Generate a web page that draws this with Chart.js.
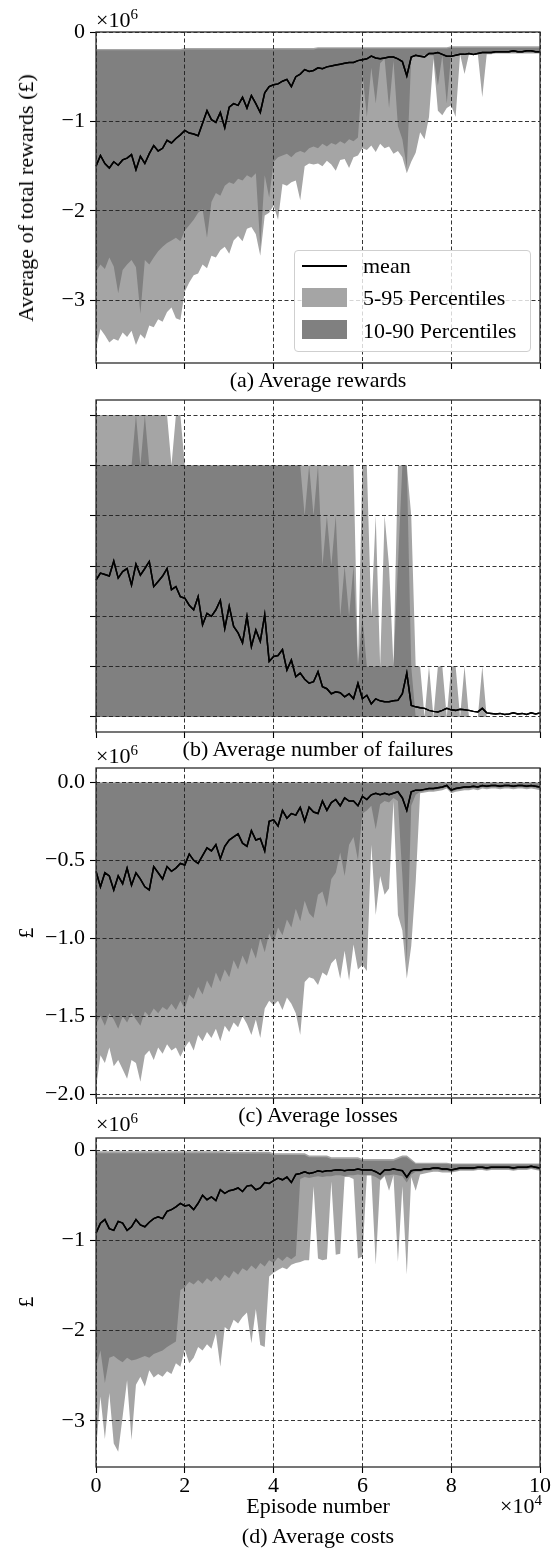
<!DOCTYPE html>
<html>
<head>
<meta charset="utf-8">
<script src="https://cdn.jsdelivr.net/npm/chart.js@4.4.1/dist/chart.umd.min.js"></script>
<style>
    body { margin: 0; width: 553px; height: 1554px; position: relative; overflow: hidden; background: #fff; }
    canvas { position: absolute; left: 0; }
    .t { position: absolute; font: 22px/22px 'Liberation Serif', serif; white-space: nowrap; color: #000; }
    .c { transform: translateX(-50%); }
    .rot { transform: translate(-50%, -50%) rotate(-90deg); }
    .sup { font-size: 15px; position: relative; top: -8px; }
    #legend {
        position: absolute; left: 294px; top: 250px; width: 237px; height: 102px; box-sizing: border-box;
        border: 1px solid #cfcfcf; border-radius: 4px; background: rgba(255, 255, 255, 0.8);
    }
    #legend .line { position: absolute; left: 7px; top: 14px; width: 45px; height: 1.6px; background: #000; }
    #legend .patch { position: absolute; left: 7px; width: 45px; height: 19px; }
</style>
</head>
<body>
<div id="charts"></div>

<div class="t" style="left:96px;top:8.6px">×10<span class="sup">6</span></div>
<div class="t rot" style="left:25.6px;top:198px">Average of total rewards (£)</div>
<div id="legend">
    <div class="line"></div>
    <div class="t" style="left:68px;top:3.6px">mean</div>
    <div class="patch" style="top:37px;background:#a5a5a5"></div>
    <div class="t" style="left:68px;top:36.3px">5-95 Percentiles</div>
    <div class="patch" style="top:69px;background:#808080"></div>
    <div class="t" style="left:68px;top:68.9px">10-90 Percentiles</div>
</div>
<div class="t c" style="left:318px;top:368.6px">(a) Average rewards</div>

<div class="t c" style="left:318px;top:737.6px">(b) Average number of failures</div>

<div class="t" style="left:96px;top:744.6px">×10<span class="sup">6</span></div>
<div class="t rot" style="left:25.6px;top:933px">£</div>
<div class="t c" style="left:318px;top:1104.3px">(c) Average losses</div>

<div class="t" style="left:96px;top:1113.3px">×10<span class="sup">6</span></div>
<div class="t rot" style="left:25.6px;top:1302px">£</div>
<div class="t c" style="left:318px;top:1494.6px">Episode number</div>
<div class="t" style="right:11px;top:1494.6px">×10<span class="sup">4</span></div>
<div class="t c" style="left:318px;top:1525px">(d) Average costs</div>

<script>
const LIGHT = '#a5a5a5'
const DARK = '#808080'

const episodes = Array.from({ length: 101 }, (_, i) => i * 1000)
const xTicks = [0, 20000, 40000, 60000, 80000, 100000]

// (a) average rewards, x1e6
const aTicks = [0, -1, -2, -3]
const aMean = [
    -1.50, -1.38, -1.47, -1.52, -1.45, -1.49, -1.43, -1.41, -1.37, -1.54,
    -1.39, -1.47, -1.36, -1.27, -1.33, -1.30, -1.21, -1.24, -1.19, -1.15,
    -1.10, -1.13, -1.14, -1.16, -1.02, -0.88, -0.98, -1.01, -0.90, -1.07,
    -0.84, -0.80, -0.82, -0.73, -0.85, -0.71, -0.80, -0.90, -0.68, -0.61,
    -0.59, -0.58, -0.55, -0.53, -0.61, -0.50, -0.47, -0.42, -0.44, -0.43,
    -0.40, -0.41, -0.39, -0.38, -0.37, -0.36, -0.35, -0.34, -0.34, -0.32,
    -0.31, -0.30, -0.27, -0.29, -0.30, -0.29, -0.28, -0.28, -0.30, -0.33,
    -0.49, -0.28, -0.26, -0.27, -0.28, -0.24, -0.24, -0.23, -0.25, -0.27,
    -0.27, -0.26, -0.25, -0.25, -0.24, -0.25, -0.24, -0.23, -0.23, -0.23,
    -0.22, -0.22, -0.22, -0.22, -0.21, -0.22, -0.22, -0.21, -0.21, -0.22, -0.22
]
const aP95 = [
    -0.19, -0.19, -0.19, -0.19, -0.19, -0.19, -0.19, -0.19, -0.19, -0.19,
    -0.19, -0.19, -0.19, -0.19, -0.19, -0.19, -0.19, -0.19, -0.19, -0.19,
    -0.18, -0.18, -0.18, -0.18, -0.18, -0.18, -0.18, -0.18, -0.18, -0.18,
    -0.18, -0.18, -0.18, -0.18, -0.18, -0.18, -0.18, -0.18, -0.18, -0.18,
    -0.18, -0.18, -0.18, -0.18, -0.18, -0.18, -0.18, -0.18, -0.18, -0.18,
    -0.17, -0.17, -0.17, -0.17, -0.17, -0.17, -0.17, -0.17, -0.17, -0.17,
    -0.17, -0.17, -0.17, -0.17, -0.17, -0.17, -0.17, -0.17, -0.17, -0.17,
    -0.17, -0.17, -0.17, -0.17, -0.17, -0.17, -0.17, -0.17, -0.17, -0.17,
    -0.16, -0.16, -0.16, -0.16, -0.16, -0.16, -0.16, -0.16, -0.16, -0.16,
    -0.16, -0.16, -0.16, -0.16, -0.16, -0.16, -0.16, -0.16, -0.16, -0.16, -0.16
]
const aP90 = [
    -0.205, -0.205, -0.205, -0.205, -0.205, -0.205, -0.205, -0.205, -0.205, -0.205,
    -0.205, -0.205, -0.205, -0.205, -0.205, -0.205, -0.205, -0.205, -0.205, -0.205,
    -0.195, -0.195, -0.195, -0.195, -0.195, -0.195, -0.195, -0.195, -0.195, -0.195,
    -0.195, -0.195, -0.195, -0.195, -0.195, -0.195, -0.195, -0.195, -0.195, -0.195,
    -0.195, -0.195, -0.195, -0.195, -0.195, -0.195, -0.195, -0.195, -0.195, -0.195,
    -0.185, -0.185, -0.185, -0.185, -0.185, -0.185, -0.185, -0.185, -0.185, -0.185,
    -0.185, -0.185, -0.185, -0.185, -0.185, -0.185, -0.185, -0.185, -0.185, -0.185,
    -0.185, -0.185, -0.185, -0.185, -0.185, -0.185, -0.185, -0.185, -0.185, -0.185,
    -0.175, -0.175, -0.175, -0.175, -0.175, -0.175, -0.175, -0.175, -0.175, -0.175,
    -0.175, -0.175, -0.175, -0.175, -0.175, -0.175, -0.175, -0.175, -0.175, -0.175, -0.175
]
const aP10 = [
    -2.68, -2.60, -2.65, -2.52, -2.62, -2.92, -2.66, -2.60, -2.55, -2.63,
    -3.15, -2.55, -2.60, -2.52, -2.45, -2.40, -2.36, -2.33, -2.30, -2.34,
    -2.22, -2.16, -2.10, -2.02, -1.98, -2.30, -1.90, -1.80, -1.83, -1.72,
    -1.68, -1.70, -1.64, -1.66, -1.60, -1.63, -1.58, -2.40, -1.60, -1.85,
    -1.45, -1.40, -1.38, -1.36, -1.40, -1.35, -1.33, -1.35, -1.30, -1.28,
    -1.30, -1.25, -1.28, -1.24, -1.26, -1.22, -1.25, -1.20, -1.22, -1.18,
    -0.45, -0.95, -0.40, -0.80, -0.35, -0.30, -0.85, -0.32, -1.05, -1.20,
    -1.52, -0.28, -0.27, -0.27, -0.26, -0.26, -0.26, -0.60, -0.26, -0.80,
    -0.25, -0.25, -0.25, -0.25, -0.24, -0.24, -0.24, -0.24, -0.24, -0.24,
    -0.23, -0.23, -0.23, -0.23, -0.23, -0.23, -0.23, -0.23, -0.23, -0.23, -0.23
]
const aP5 = [
    -3.54, -3.32, -3.39, -3.47, -3.43, -3.45, -3.36, -3.41, -3.34, -3.50,
    -3.38, -3.43, -3.28, -3.30, -3.21, -3.24, -3.13, -3.08, -3.20, -3.22,
    -2.90, -2.80, -2.72, -2.70, -2.60, -2.64, -2.50, -2.52, -2.44, -2.40,
    -2.48, -2.33, -2.28, -2.34, -2.20, -2.18, -2.26, -2.50, -2.05, -2.02,
    -1.94, -2.10, -1.70, -1.72, -1.68, -1.66, -1.88, -1.50, -1.47, -1.48,
    -1.47, -1.50, -1.44, -1.48, -1.55, -1.43, -1.42, -1.52, -1.40, -1.38,
    -1.30, -1.32, -1.27, -1.34, -1.25, -1.30, -1.28, -1.36, -1.33, -1.40,
    -1.58, -1.45, -1.35, -1.12, -1.20, -0.95, -0.30, -0.88, -0.93, -0.85,
    -0.82, -0.95, -0.25, -0.47, -0.25, -0.25, -0.25, -0.73, -0.25, -0.25,
    -0.24, -0.24, -0.24, -0.24, -0.24, -0.24, -0.24, -0.24, -0.24, -0.24, -0.24
]

// (b) average number of failures
const bTicks = [0, 1, 2, 3, 4, 5, 6]
const bMean = [
    2.72, 2.86, 2.83, 2.80, 3.10, 2.76, 2.89, 2.95, 2.62, 3.04,
    2.82, 2.95, 3.09, 2.59, 2.69, 2.80, 2.95, 2.53, 2.59, 2.39,
    2.36, 2.22, 2.13, 2.39, 1.83, 2.06, 2.00, 2.13, 2.32, 1.76,
    2.20, 1.80, 1.67, 1.47, 2.00, 1.40, 1.73, 1.50, 2.03, 1.10,
    1.20, 1.22, 1.34, 0.93, 1.13, 0.80, 0.87, 0.75, 0.67, 0.70,
    0.90, 0.60, 0.56, 0.46, 0.50, 0.48, 0.40, 0.46, 0.36, 0.67,
    0.36, 0.43, 0.26, 0.36, 0.32, 0.30, 0.30, 0.32, 0.33, 0.46,
    0.87, 0.23, 0.20, 0.18, 0.17, 0.13, 0.11, 0.10, 0.13, 0.17,
    0.14, 0.13, 0.15, 0.14, 0.13, 0.11, 0.10, 0.17, 0.08, 0.07,
    0.06, 0.07, 0.05, 0.06, 0.08, 0.06, 0.07, 0.05, 0.08, 0.06, 0.08
]
const bP95 = [
    6, 6, 6, 6, 6, 6, 6, 6, 6, 6,
    6, 6, 6, 6, 6, 6, 6, 5, 6, 6,
    5, 5, 5, 5, 5, 5, 5, 5, 5, 5,
    5, 5, 5, 5, 5, 5, 5, 5, 5, 5,
    5, 5, 5, 5, 5, 5, 5, 5, 5, 5,
    5, 5, 5, 5, 5, 5, 5, 5, 5, 1,
    5, 5, 2, 4, 1, 4, 3, 1, 5, 5,
    5, 4, 1, 1, 0, 1, 0, 1, 1, 0,
    1, 1, 0, 1, 0, 0, 0, 1, 0, 0,
    0, 0, 0, 0, 0, 0, 0, 0, 0, 0, 0
]
const bP90 = [
    5, 5, 5, 5, 5, 5, 5, 5, 5, 6,
    5, 6, 5, 5, 5, 5, 5, 5, 5, 5,
    5, 5, 5, 5, 5, 5, 5, 5, 5, 5,
    5, 5, 5, 5, 5, 5, 5, 5, 5, 5,
    5, 5, 5, 5, 5, 5, 5, 4, 5, 4,
    5, 3, 4, 3, 4, 2, 3, 2, 3, 1,
    2, 1, 1, 1, 1, 1, 1, 1, 3, 5,
    5, 1, 0, 0, 0, 0, 0, 0, 0, 0,
    0, 0, 0, 0, 0, 0, 0, 0, 0, 0,
    0, 0, 0, 0, 0, 0, 0, 0, 0, 0, 0
]

// (c) average losses, x1e6
const cTicks = [0, -0.5, -1, -1.5, -2]
const cMean = [
    -0.57, -0.67, -0.58, -0.60, -0.69, -0.60, -0.65, -0.55, -0.66, -0.58,
    -0.62, -0.67, -0.69, -0.54, -0.58, -0.62, -0.54, -0.57, -0.55, -0.52,
    -0.53, -0.46, -0.50, -0.52, -0.47, -0.42, -0.44, -0.40, -0.49, -0.41,
    -0.37, -0.35, -0.33, -0.39, -0.41, -0.31, -0.37, -0.36, -0.44, -0.25,
    -0.24, -0.28, -0.18, -0.23, -0.20, -0.21, -0.16, -0.25, -0.16, -0.19,
    -0.20, -0.12, -0.18, -0.13, -0.11, -0.15, -0.10, -0.12, -0.12, -0.15,
    -0.09, -0.11, -0.08, -0.07, -0.08, -0.07, -0.08, -0.07, -0.06, -0.10,
    -0.18, -0.06, -0.05, -0.05, -0.045, -0.04, -0.04, -0.035, -0.03, -0.02,
    -0.05, -0.04, -0.035, -0.03, -0.03, -0.025, -0.03, -0.02, -0.025, -0.02,
    -0.02, -0.025, -0.02, -0.02, -0.025, -0.02, -0.02, -0.025, -0.02, -0.025, -0.03
]
const cP95 = [
    0, 0, 0, 0, 0, 0, 0, 0, 0, 0,
    0, 0, 0, 0, 0, 0, 0, 0, 0, 0,
    0, 0, 0, 0, 0, 0, 0, 0, 0, 0,
    0, 0, 0, 0, 0, 0, 0, 0, 0, 0,
    0, 0, 0, 0, 0, 0, 0, 0, 0, 0,
    0, 0, 0, 0, 0, 0, 0, 0, 0, 0,
    0, 0, 0, 0, 0, 0, 0, 0, 0, 0,
    0, 0, 0, 0, 0, 0, 0, 0, 0, 0,
    0, 0, 0, 0, 0, 0, 0, 0, 0, 0,
    0, 0, 0, 0, 0, 0, 0, 0, 0, 0, 0
]
const cP90 = [
    -0.005, -0.005, -0.005, -0.005, -0.005, -0.005, -0.005, -0.005, -0.005, -0.005,
    -0.005, -0.005, -0.005, -0.005, -0.005, -0.005, -0.005, -0.005, -0.005, -0.005,
    -0.005, -0.005, -0.005, -0.005, -0.005, -0.005, -0.005, -0.005, -0.005, -0.005,
    -0.005, -0.005, -0.005, -0.005, -0.005, -0.005, -0.005, -0.005, -0.005, -0.005,
    -0.005, -0.005, -0.005, -0.005, -0.005, -0.005, -0.005, -0.005, -0.005, -0.005,
    -0.005, -0.005, -0.005, -0.005, -0.005, -0.005, -0.005, -0.005, -0.005, -0.005,
    -0.005, -0.005, -0.005, -0.005, -0.005, -0.005, -0.005, -0.005, -0.005, -0.005,
    -0.005, -0.005, -0.005, -0.005, -0.005, -0.005, -0.005, -0.005, -0.005, -0.005,
    -0.005, -0.005, -0.005, -0.005, -0.005, -0.005, -0.005, -0.005, -0.005, -0.005,
    -0.005, -0.005, -0.005, -0.005, -0.005, -0.005, -0.005, -0.005, -0.005, -0.005, -0.005
]
const cP10 = [
    -1.55, -1.50, -1.56, -1.48, -1.52, -1.58, -1.50, -1.54, -1.48, -1.52,
    -1.56, -1.47, -1.50, -1.45, -1.48, -1.44, -1.46, -1.42, -1.46, -1.40,
    -1.45, -1.36, -1.39, -1.31, -1.36, -1.27, -1.32, -1.22, -1.28, -1.20,
    -1.25, -1.14, -1.20, -1.11, -1.17, -1.06, -1.13, -1.00, -1.09, -0.97,
    -1.03, -0.93, -0.98, -0.88, -0.93, -0.81, -0.89, -0.76, -0.84, -0.87,
    -0.72, -0.70, -0.80, -0.62, -0.58, -0.45, -0.60, -0.40, -0.35, -0.50,
    -0.20, -0.18, -0.15, -0.30, -0.14, -0.12, -0.13, -0.10, -0.12, -0.60,
    -1.15, -0.15, -0.08, -0.06, -0.055, -0.05, -0.05, -0.045, -0.04, -0.03,
    -0.06, -0.05, -0.045, -0.04, -0.04, -0.035, -0.04, -0.03, -0.035, -0.03,
    -0.03, -0.035, -0.03, -0.03, -0.035, -0.03, -0.03, -0.035, -0.03, -0.035, -0.04
]
const cP5 = [
    -1.96, -1.75, -1.80, -1.70, -1.82, -1.78, -1.84, -1.90, -1.78, -1.80,
    -1.92, -1.75, -1.72, -1.78, -1.70, -1.74, -1.68, -1.72, -1.70, -1.76,
    -1.70, -1.66, -1.72, -1.62, -1.66, -1.60, -1.64, -1.58, -1.66, -1.56,
    -1.60, -1.54, -1.57, -1.50, -1.55, -1.62, -1.52, -1.64, -1.45, -1.40,
    -1.43, -1.40, -1.46, -1.38, -1.42, -1.48, -1.62, -1.28, -1.25, -1.26,
    -1.30, -1.22, -1.24, -1.16, -1.13, -1.26, -1.08, -1.27, -1.04, -1.20,
    -1.17, -1.21, -0.40, -0.85, -0.60, -0.72, -0.68, -0.12, -0.85, -0.95,
    -1.26, -1.05, -0.64, -0.07, -0.065, -0.06, -0.06, -0.055, -0.05, -0.04,
    -0.07, -0.06, -0.055, -0.05, -0.05, -0.045, -0.05, -0.04, -0.045, -0.04,
    -0.04, -0.045, -0.04, -0.04, -0.045, -0.04, -0.04, -0.045, -0.04, -0.045, -0.05
]

// (d) average costs, x1e6
const dTicks = [0, -1, -2, -3]
const dMean = [
    -0.92, -0.81, -0.77, -0.87, -0.89, -0.79, -0.81, -0.89, -0.85, -0.77,
    -0.83, -0.85, -0.80, -0.76, -0.74, -0.76, -0.68, -0.66, -0.63, -0.59,
    -0.62, -0.61, -0.66, -0.59, -0.50, -0.55, -0.52, -0.56, -0.44, -0.48,
    -0.45, -0.44, -0.42, -0.46, -0.40, -0.39, -0.44, -0.42, -0.36, -0.37,
    -0.34, -0.31, -0.33, -0.30, -0.36, -0.27, -0.26, -0.24, -0.26, -0.25,
    -0.23, -0.24, -0.23, -0.23, -0.22, -0.22, -0.23, -0.22, -0.22, -0.21,
    -0.22, -0.22, -0.22, -0.24, -0.27, -0.22, -0.22, -0.21, -0.22, -0.23,
    -0.30, -0.23, -0.22, -0.22, -0.21, -0.21, -0.20, -0.20, -0.21, -0.21,
    -0.22, -0.21, -0.20, -0.20, -0.20, -0.20, -0.19, -0.19, -0.20, -0.19,
    -0.19, -0.19, -0.19, -0.19, -0.20, -0.19, -0.19, -0.19, -0.18, -0.19, -0.20
]
const dP95 = [
    -0.015, -0.015, -0.015, -0.015, -0.015, -0.015, -0.015, -0.015, -0.015, -0.015,
    -0.015, -0.015, -0.015, -0.015, -0.015, -0.015, -0.015, -0.015, -0.015, -0.015,
    -0.015, -0.015, -0.015, -0.015, -0.015, -0.015, -0.015, -0.015, -0.015, -0.015,
    -0.02, -0.02, -0.02, -0.02, -0.02, -0.02, -0.02, -0.02, -0.02, -0.02,
    -0.035, -0.035, -0.035, -0.035, -0.035, -0.035, -0.035, -0.035, -0.06, -0.06,
    -0.06, -0.06, -0.06, -0.08, -0.08, -0.08, -0.08, -0.08, -0.08, -0.08,
    -0.10, -0.10, -0.10, -0.10, -0.10, -0.10, -0.10, -0.10, -0.08, -0.06,
    -0.06, -0.10, -0.14, -0.14, -0.14, -0.14, -0.14, -0.14, -0.14, -0.14,
    -0.15, -0.15, -0.15, -0.15, -0.15, -0.15, -0.15, -0.15, -0.15, -0.15,
    -0.15, -0.15, -0.15, -0.15, -0.15, -0.15, -0.15, -0.15, -0.15, -0.15, -0.15
]
const dP90 = [
    -0.035, -0.035, -0.035, -0.035, -0.035, -0.035, -0.035, -0.035, -0.035, -0.035,
    -0.035, -0.035, -0.035, -0.035, -0.035, -0.035, -0.035, -0.035, -0.035, -0.035,
    -0.035, -0.035, -0.035, -0.035, -0.035, -0.035, -0.035, -0.035, -0.035, -0.035,
    -0.04, -0.04, -0.04, -0.04, -0.04, -0.04, -0.04, -0.04, -0.04, -0.04,
    -0.055, -0.055, -0.055, -0.055, -0.055, -0.055, -0.055, -0.055, -0.08, -0.08,
    -0.08, -0.08, -0.08, -0.10, -0.10, -0.10, -0.10, -0.10, -0.10, -0.10,
    -0.12, -0.12, -0.12, -0.12, -0.12, -0.12, -0.12, -0.12, -0.10, -0.08,
    -0.08, -0.12, -0.155, -0.155, -0.155, -0.155, -0.155, -0.155, -0.155, -0.155,
    -0.16, -0.16, -0.16, -0.16, -0.16, -0.16, -0.16, -0.16, -0.16, -0.16,
    -0.16, -0.16, -0.16, -0.16, -0.16, -0.16, -0.16, -0.16, -0.16, -0.16, -0.16
]
const dP10 = [
    -2.40, -2.22, -2.58, -2.30, -2.28, -2.32, -2.35, -2.30, -2.33, -2.32,
    -2.30, -2.28, -2.30, -2.26, -2.24, -2.22, -2.18, -2.15, -2.12, -1.55,
    -1.52, -1.46, -1.49, -1.44, -1.48, -1.42, -1.46, -1.40, -1.45, -1.38,
    -1.42, -1.34, -1.38, -1.31, -1.34, -1.28, -1.32, -1.25, -1.29, -1.22,
    -1.25, -1.19, -1.23, -1.18, -1.21, -1.17, -0.32, -0.30, -0.31, -0.30,
    -0.29, -0.30, -0.29, -0.29, -0.28, -0.28, -0.29, -0.28, -0.28, -0.27,
    -0.28, -0.28, -0.28, -0.30, -0.33, -0.28, -0.28, -0.27, -0.28, -0.29,
    -0.36, -0.27, -0.24, -0.24, -0.23, -0.23, -0.22, -0.22, -0.23, -0.23,
    -0.24, -0.23, -0.22, -0.22, -0.22, -0.22, -0.21, -0.21, -0.22, -0.21,
    -0.21, -0.21, -0.21, -0.21, -0.22, -0.21, -0.21, -0.21, -0.20, -0.21, -0.22
]
const dP5 = [
    -3.32, -2.73, -3.20, -2.69, -3.25, -3.34, -2.95, -2.55, -3.21, -2.60,
    -2.51, -2.62, -2.44, -2.52, -2.48, -2.51, -2.45, -2.48, -2.36, -2.40,
    -2.21, -2.36, -2.30, -2.18, -2.22, -2.15, -2.20, -2.03, -2.40, -1.96,
    -2.00, -1.88, -1.92, -1.85, -1.80, -2.14, -1.76, -2.16, -2.18, -1.40,
    -1.36, -1.33, -1.30, -1.32, -1.27, -1.25, -1.24, -1.22, -1.22, -0.40,
    -1.20, -1.22, -1.21, -0.35, -1.16, -1.15, -0.30, -0.30, -0.32, -1.20,
    -1.18, -0.28, -0.28, -1.27, -0.34, -0.29, -0.45, -0.28, -1.24, -0.40,
    -1.38, -0.30, -0.45, -0.27, -0.26, -0.25, -0.24, -0.24, -0.25, -0.25,
    -0.25, -0.24, -0.23, -0.23, -0.23, -0.23, -0.22, -0.22, -0.23, -0.22,
    -0.22, -0.22, -0.22, -0.22, -0.23, -0.22, -0.22, -0.22, -0.21, -0.22, -0.23
]

const intLabel = v => v === 0 ? '0' : '\u2212' + Math.abs(v)
const decLabel = v => (v === 0 ? '' : '\u2212') + Math.abs(v).toFixed(1)

const panels = [
    { top: 0, height: 403, min: -3.70, max: 0, yTicks: aTicks, fmt: intLabel,
      bands: [[aP95, aP5], [aP90, aP10]], mean: aMean, xLabels: false },
    { top: 368, height: 404, min: -0.3, max: 6.3, yTicks: bTicks, fmt: () => '',
      bands: [[bP95, null], [bP90, null]], mean: bMean, xLabels: false },
    { top: 736, height: 402, min: -2.024, max: 0.092, yTicks: cTicks, fmt: decLabel,
      bands: [[cP95, cP5], [cP90, cP10]], mean: cMean, xLabels: false },
    { top: 1106, height: 401, min: -3.51, max: 0.133, yTicks: dTicks, fmt: intLabel,
      bands: [[dP95, dP5], [dP90, dP10]], mean: dMean, xLabels: true },
]

// spines on all four sides, and the mean line again above the dashed grid
const frame = {
    id: 'frame',
    afterDraw(chart) {
        const { ctx, chartArea: area } = chart
        const meanIndex = chart.data.datasets.findIndex(d => d.label === 'mean')
        chart.getDatasetMeta(meanIndex).controller.draw()
        ctx.save()
        ctx.strokeStyle = '#2b2b2b'
        ctx.lineWidth = 1.3
        ctx.strokeRect(area.left, area.top, area.width, area.height)
        ctx.restore()
    }
}

function buildDatasets(p) {
    const pts = ys => ys.map((y, i) => ({ x: episodes[i], y }))
    const flat = { pointRadius: 0, borderWidth: 0, borderColor: 'rgba(0,0,0,0)' }
    const sets = []
    p.bands.forEach(([upper, lower], i) => {
        const color = i === 0 ? LIGHT : DARK
        if (lower) {
            sets.push({ ...flat, data: pts(upper), fill: '+1', backgroundColor: color, order: 4 - 2 * i })
            sets.push({ ...flat, data: pts(lower), fill: false, order: 3 - 2 * i })
        } else {
            sets.push({ ...flat, data: pts(upper), fill: 'origin', backgroundColor: color, order: 4 - 2 * i })
        }
    })
    sets.push({ label: 'mean', data: pts(p.mean), borderColor: '#000', borderWidth: 1.5,
                pointRadius: 0, fill: false, order: 0 })
    return sets
}

const tickFont = { family: "'Liberation Serif', serif", size: 22, lineHeight: 1 }
const grid = { z: 1, color: '#1e1e1e', lineWidth: 0.9, tickLength: 6, tickColor: '#000',
               tickWidth: 1.1, tickBorderDash: [] }
const border = { display: false, dash: [4, 2.5] }

const holder = document.getElementById('charts')
panels.forEach(p => {
    const canvas = document.createElement('canvas')
    canvas.width = 553
    canvas.height = p.height
    canvas.style.top = p.top + 'px'
    canvas.style.width = '553px'
    canvas.style.height = p.height + 'px'
    holder.appendChild(canvas)

    new Chart(canvas, {
        type: 'line',
        data: { datasets: buildDatasets(p) },
        options: {
            responsive: false,
            animation: false,
            events: [],
            layout: { padding: { top: 32, right: 13, bottom: 0, left: 0 } },
            plugins: { legend: { display: false }, tooltip: { enabled: false } },
            scales: {
                x: {
                    type: 'linear', min: 0, max: 100000,
                    afterBuildTicks: s => { s.ticks = xTicks.map(value => ({ value })) },
                    afterFit: s => { s.height = 40; s.paddingLeft = 0; s.paddingRight = 0 },
                    grid, border,
                    ticks: { font: tickFont, color: '#000', padding: 2, maxRotation: 0, autoSkip: false,
                             callback: v => p.xLabels ? String(v / 10000) : '' }
                },
                y: {
                    type: 'linear', min: p.min, max: p.max,
                    afterBuildTicks: s => { s.ticks = p.yTicks.map(value => ({ value })) },
                    afterFit: s => { s.width = 96; s.paddingTop = 0; s.paddingBottom = 0 },
                    grid, border,
                    ticks: { font: tickFont, color: '#000', padding: 5, autoSkip: false, callback: p.fmt }
                }
            }
        },
        plugins: [frame]
    })
})
</script>
</body>
</html>
